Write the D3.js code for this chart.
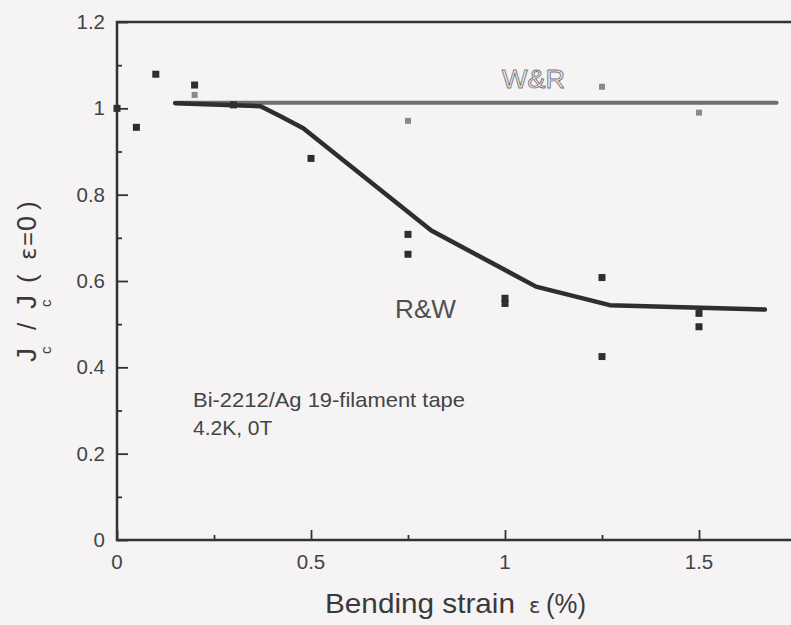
<!DOCTYPE html>
<html>
<head>
<meta charset="utf-8">
<script src="https://cdn.jsdelivr.net/npm/d3@7"></script>
<style>
  body { margin: 0; background: #f5f3f4; }
  svg { display: block; font-family: "Liberation Sans", Arial, sans-serif; }
</style>
</head>
<body>
<div id="chart"></div>
<script>
// R&W samples (black squares)
const rwStrain = [0, 0.05, 0.1, 0.2, 0.3, 0.5, 0.75, 0.75, 1.0, 1.0, 1.25, 1.25, 1.5, 1.5];
const rwJc = [1.0, 0.956, 1.079, 1.054, 1.008, 0.884, 0.708, 0.662, 0.56, 0.548, 0.608, 0.425, 0.525, 0.494];
// W&R samples (grey marks)
const wrStrain = [0.2, 0.75, 1.25, 1.5];
const wrJc = [1.031, 0.971, 1.05, 0.99];
// trend lines
const rwFitStrain = [0.15, 0.37, 0.42, 0.48, 0.81, 1.08, 1.27, 1.67];
const rwFitJc = [1.012, 1.005, 0.982, 0.954, 0.717, 0.587, 0.544, 0.534];
const wrFitStrain = [0.15, 1.7];
const wrFitJc = [1.013, 1.013];

const xMajor = [0, 0.5, 1, 1.5];
const xMinor = [0.25, 0.75, 1.25];
const yMajor = [0, 0.2, 0.4, 0.6, 0.8, 1, 1.2];
const yMinor = [0.1, 0.3, 0.5, 0.7, 0.9, 1.1];

const width = 791, height = 625;
const margin = { top: 22, right: -5, bottom: 85, left: 117 };

const svg = d3.select("#chart")
  .append("svg")
  .attr("width", width)
  .attr("height", height);

const x = d3.scaleLinear().domain([0, 1.75]).range([margin.left, width - margin.right]);
const y = d3.scaleLinear().domain([0, 1.2]).range([height - margin.bottom, margin.top]);

const axisColor = "#333";
const textColor = "#444";

// frame: top line, left + bottom axes
svg.append("path")
  .attr("d", `M${x(1.75)},${y(1.2)}H${x(0)}V${y(0)}H${x(1.75)}`)
  .attr("fill", "none")
  .attr("stroke", axisColor)
  .attr("stroke-width", 2.5);

// inward ticks
const yAxis = svg.append("g").attr("transform", `translate(${x(0)},0)`);
yAxis.call(d3.axisRight(y).tickValues(yMajor).tickSize(11).tickFormat(""));
yAxis.append("g").call(d3.axisRight(y).tickValues(yMinor).tickSize(5).tickFormat(""));
const xAxis = svg.append("g").attr("transform", `translate(0,${y(0)})`);
xAxis.call(d3.axisTop(x).tickValues(xMajor).tickSize(10).tickFormat(""));
xAxis.append("g").call(d3.axisTop(x).tickValues(xMinor).tickSize(5).tickFormat(""));
svg.selectAll(".domain").remove();
svg.selectAll(".tick line").attr("stroke", axisColor).attr("stroke-width", 1.8);

// tick labels
svg.append("g").selectAll("text")
  .data(yMajor)
  .enter()
  .append("text")
  .attr("x", x(0) - 12)
  .attr("y", d => y(d) + 7)
  .attr("text-anchor", "end")
  .attr("font-size", 20.5)
  .attr("fill", textColor)
  .text(d => d3.format("~g")(d));

svg.append("g").selectAll("text")
  .data(xMajor)
  .enter()
  .append("text")
  .attr("x", d => x(d))
  .attr("y", y(0) + 29)
  .attr("text-anchor", "middle")
  .attr("font-size", 20.5)
  .attr("fill", textColor)
  .text(d => d3.format("~g")(d));

// x title
const xTitle = svg.append("g").attr("fill", "#3a3a3a");
xTitle.append("text").attr("x", 325).attr("y", 613).attr("font-size", 28)
  .attr("textLength", 190).attr("lengthAdjust", "spacingAndGlyphs").text("Bending strain");
xTitle.append("text").attr("x", 529).attr("y", 613).attr("font-size", 21)
  .attr("font-family", "DejaVu Sans").text("ε");
xTitle.append("text").attr("x", 546).attr("y", 613).attr("font-size", 27)
  .attr("textLength", 40).attr("lengthAdjust", "spacingAndGlyphs").text("(%)");

// y title (rotated, with subscripts)
const yTitle = svg.append("g")
  .attr("transform", "translate(36,362) rotate(-90)")
  .attr("fill", "#3a3a3a");
const yParts = [
  { t: "J", at: 0, dy: 0, size: 28 },
  { t: "c", at: 8, dy: 15, size: 15 },
  { t: "/", at: 32, dy: 0, size: 26 },
  { t: "J", at: 53, dy: 0, size: 28 },
  { t: "c", at: 55, dy: 15, size: 15 },
  { t: "(", at: 79, dy: 0, size: 26 },
  { t: "ε", at: 102, dy: 0, size: 23 },
  { t: "=", at: 116, dy: 0, size: 24 },
  { t: "0", at: 131, dy: 0, size: 27 },
  { t: ")", at: 152, dy: 0, size: 26 }
];
yTitle.selectAll("text")
  .data(yParts)
  .enter()
  .append("text")
  .attr("x", d => d.at)
  .attr("y", d => d.dy)
  .attr("font-size", d => d.size)
  .attr("font-family", d => d.t === "ε" ? "DejaVu Sans" : null)
  .text(d => d.t);

// trend lines
const line = d3.line().x(d => x(d[0])).y(d => y(d[1]));

svg.append("path")
  .datum(d3.zip(wrFitStrain, wrFitJc))
  .attr("d", line)
  .attr("fill", "none")
  .attr("stroke", "#707070")
  .attr("stroke-width", 4)
  .attr("stroke-linecap", "round");

// markers
svg.append("g").selectAll("rect")
  .data(d3.zip(wrStrain, wrJc))
  .enter()
  .append("rect")
  .attr("x", d => x(d[0]) - 3)
  .attr("y", d => y(d[1]) - 3)
  .attr("width", 6)
  .attr("height", 6)
  .attr("fill", "#8a8a8a");

svg.append("g").selectAll("rect")
  .data(d3.zip(rwStrain, rwJc))
  .enter()
  .append("rect")
  .attr("x", d => x(d[0]) - 3.5)
  .attr("y", d => y(d[1]) - 3.5)
  .attr("width", 7)
  .attr("height", 7)
  .attr("fill", "#2e2e2e");

svg.append("path")
  .datum(d3.zip(rwFitStrain, rwFitJc))
  .attr("d", line)
  .attr("fill", "none")
  .attr("stroke", "#2e2e2e")
  .attr("stroke-width", 4.5)
  .attr("stroke-linejoin", "round")
  .attr("stroke-linecap", "round");

// labels
svg.append("text").attr("x", 502).attr("y", 88).attr("font-size", 26)
  .attr("fill", "none").attr("stroke", "#777").attr("stroke-width", 0.9)
  .attr("textLength", 63).attr("lengthAdjust", "spacingAndGlyphs").text("W&R");
svg.append("text").attr("x", 395).attr("y", 318).attr("font-size", 25)
  .attr("fill", "#505050")
  .attr("textLength", 61).attr("lengthAdjust", "spacingAndGlyphs").text("R&W");

svg.append("text").attr("x", 193).attr("y", 407).attr("font-size", 21)
  .attr("fill", textColor)
  .attr("textLength", 272).attr("lengthAdjust", "spacingAndGlyphs")
  .text("Bi-2212/Ag 19-filament tape");
svg.append("text").attr("x", 193).attr("y", 435).attr("font-size", 21)
  .attr("fill", textColor)
  .text("4.2K, 0T");
</script>
</body>
</html>
